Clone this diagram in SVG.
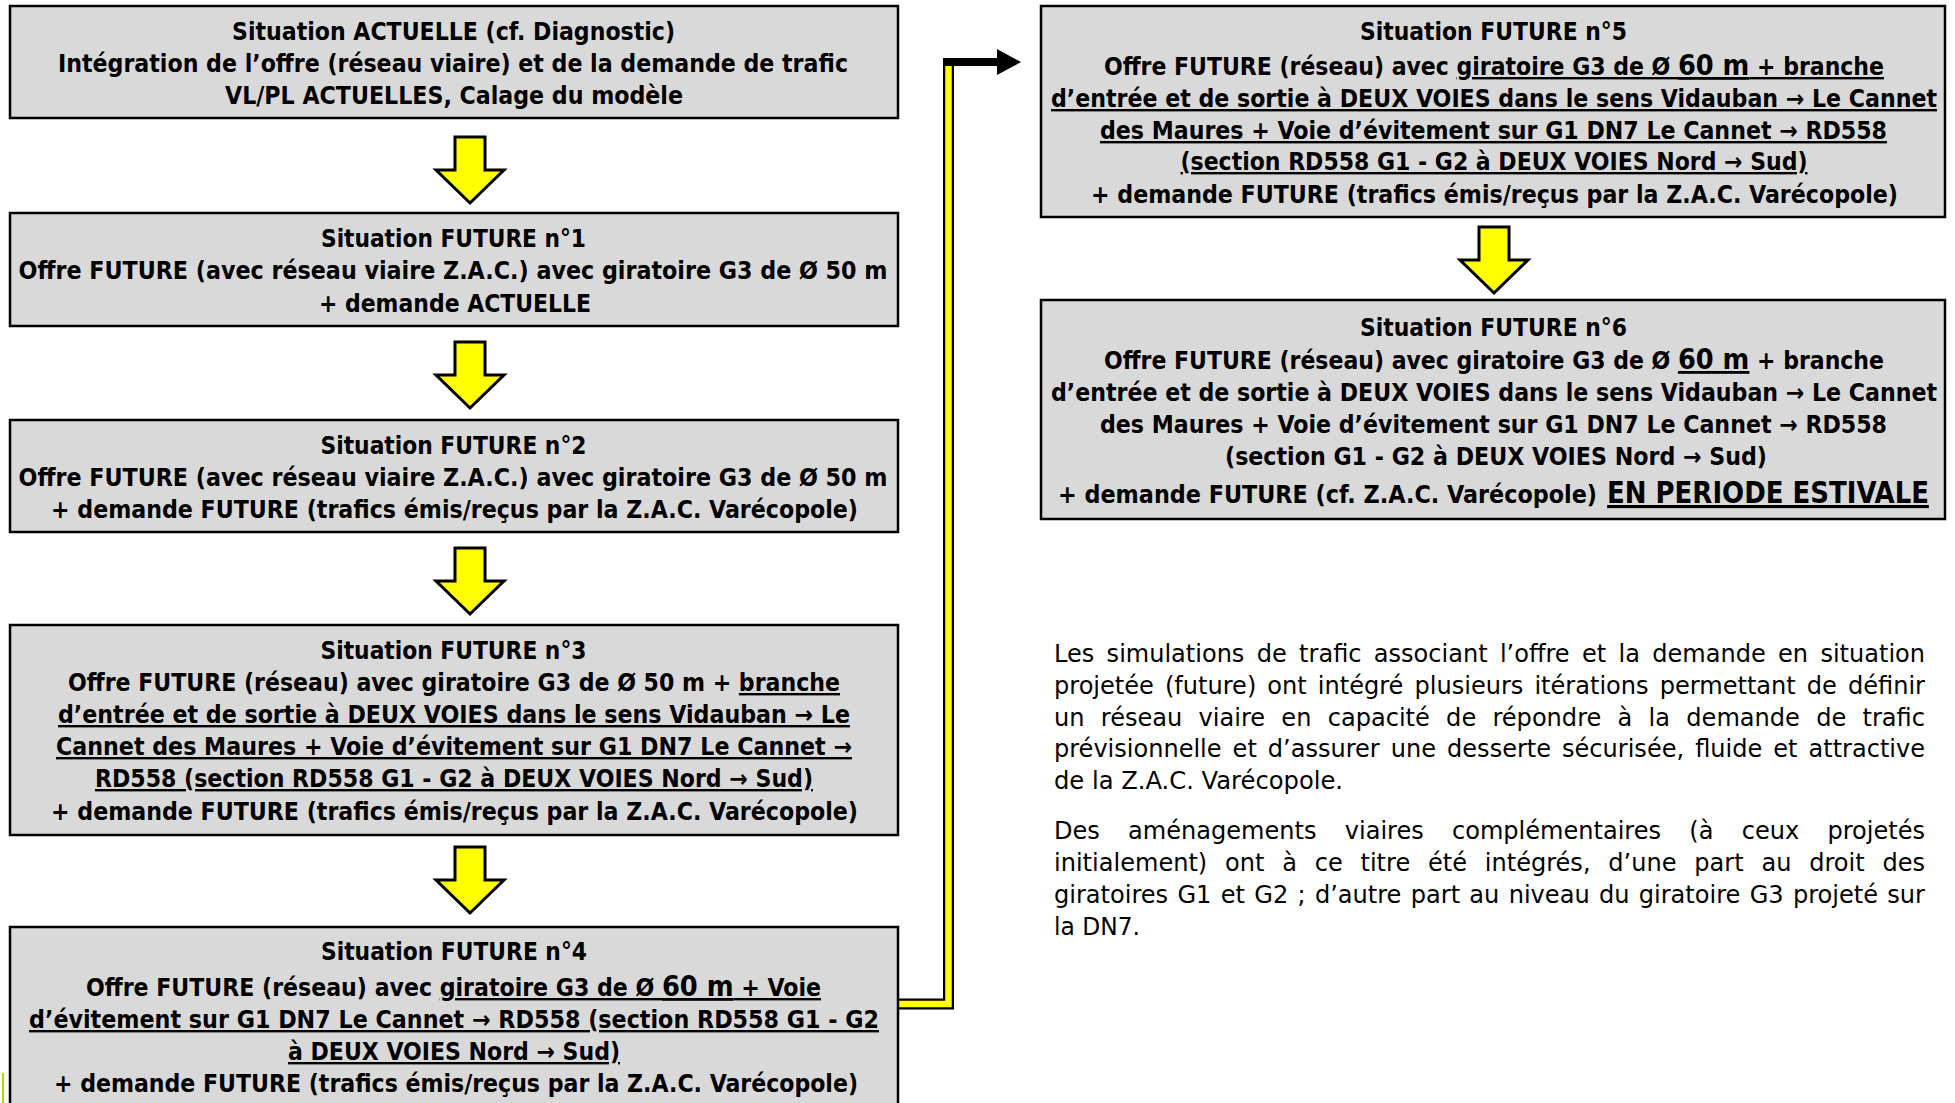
<svg xmlns="http://www.w3.org/2000/svg" width="1955" height="1103" viewBox="0 0 1955 1103">
  <style>
    .box { fill: #d9d9d9; stroke: #000; stroke-width: 2.5; }
    .t { font-family: "DejaVu Sans", "Liberation Sans", sans-serif; font-weight: bold; font-stretch: condensed; font-size: 24px; fill: #000; text-anchor: middle; }
    .s { text-anchor: start; }
    .u { text-decoration: underline; }
    .big { font-size: 28px; }
    .est { font-size: 31px; }
    .p { font-family: "DejaVu Sans", "Liberation Sans", sans-serif; font-size: 24px; fill: #000; }
    .arrow { fill: #ffff00; stroke: #000; stroke-width: 3; stroke-linejoin: miter; }
  </style>
  <rect width="1955" height="1103" fill="#fff"/>

  <!-- flow arrows and the link from n°4 to n°5 -->
  <g id="connectors">
    <polygon class="arrow" points="455,137 485,137 485,170 504,170 470,203 436,170 455,170"/>
    <polygon class="arrow" points="455,342 485,342 485,375 504,375 470,408 436,375 455,375"/>
    <polygon class="arrow" points="455,548 485,548 485,581 504,581 470,614 436,581 455,581"/>
    <polygon class="arrow" points="455,847 485,847 485,880 504,880 470,913 436,880 455,880"/>
    <polygon class="arrow" points="1479,227 1509,227 1509,260 1528,260 1494,293 1460,260 1479,260"/>
    <path d="M897 1004 H948.5 V62" fill="none" stroke="#000" stroke-width="11" stroke-linejoin="miter"/>
    <path d="M899 1004 H948.5 V66" fill="none" stroke="#ffff00" stroke-width="6.5" stroke-linejoin="miter"/>
    <rect x="943" y="58" width="56" height="8" fill="#000"/>
    <polygon points="997,49 1021,62 997,75" fill="#000"/>
  </g>

  <g id="actuelle">
    <rect class="box" x="10" y="6" width="888" height="112"/>
    <text class="t" x="453.5" y="40" textLength="443" lengthAdjust="spacingAndGlyphs">Situation ACTUELLE (cf. Diagnostic)</text>
    <text class="t" x="453" y="72" textLength="790" lengthAdjust="spacingAndGlyphs">Intégration de l’offre (réseau viaire) et de la demande de trafic</text>
    <text class="t" x="454" y="104" textLength="458" lengthAdjust="spacingAndGlyphs">VL/PL ACTUELLES, Calage du modèle</text>
  </g>

  <g id="future1">
    <rect class="box" x="10" y="213" width="888" height="113"/>
    <text class="t" x="453.5" y="247" textLength="265" lengthAdjust="spacingAndGlyphs">Situation FUTURE n°1</text>
    <text class="t" x="453" y="279" textLength="869" lengthAdjust="spacingAndGlyphs">Offre FUTURE (avec réseau viaire Z.A.C.) avec giratoire G3 de Ø 50 m</text>
    <text class="t" x="455" y="312" textLength="272" lengthAdjust="spacingAndGlyphs">+ demande ACTUELLE</text>
  </g>

  <g id="future2">
    <rect class="box" x="10" y="420" width="888" height="112"/>
    <text class="t" x="453.5" y="454" textLength="266" lengthAdjust="spacingAndGlyphs">Situation FUTURE n°2</text>
    <text class="t" x="453" y="486" textLength="869" lengthAdjust="spacingAndGlyphs">Offre FUTURE (avec réseau viaire Z.A.C.) avec giratoire G3 de Ø 50 m</text>
    <text class="t" x="454.5" y="518" textLength="807" lengthAdjust="spacingAndGlyphs">+ demande FUTURE (trafics émis/reçus par la Z.A.C. Varécopole)</text>
  </g>

  <g id="future3">
    <rect class="box" x="10" y="625" width="888" height="210"/>
    <text class="t" x="453.5" y="659" textLength="266" lengthAdjust="spacingAndGlyphs">Situation FUTURE n°3</text>
    <text class="t" x="454" y="691" textLength="772" lengthAdjust="spacingAndGlyphs">Offre FUTURE (réseau) avec giratoire G3 de Ø 50 m + <tspan class="u">branche</tspan></text>
    <text class="t u" x="454" y="723" textLength="792" lengthAdjust="spacingAndGlyphs">d’entrée et de sortie à DEUX VOIES dans le sens Vidauban → Le</text>
    <text class="t u" x="454" y="755" textLength="796" lengthAdjust="spacingAndGlyphs">Cannet des Maures + Voie d’évitement sur G1 DN7 Le Cannet →</text>
    <text class="t u" x="454" y="787" textLength="718" lengthAdjust="spacingAndGlyphs">RD558 (section RD558 G1 - G2 à DEUX VOIES Nord → Sud)</text>
    <text class="t" x="454.5" y="820" textLength="807" lengthAdjust="spacingAndGlyphs">+ demande FUTURE (trafics émis/reçus par la Z.A.C. Varécopole)</text>
  </g>

  <g id="future4">
    <rect class="box" x="10" y="927" width="888" height="190"/>
    <text class="t" x="454" y="960" textLength="266" lengthAdjust="spacingAndGlyphs">Situation FUTURE n°4</text>
    <text class="t" x="453.5" y="996" textLength="735" lengthAdjust="spacingAndGlyphs">Offre FUTURE (réseau) avec <tspan class="u">giratoire G3 de Ø <tspan class="big">60 m</tspan> + Voie</tspan></text>
    <text class="t u" x="454" y="1028" textLength="850" lengthAdjust="spacingAndGlyphs">d’évitement sur G1 DN7 Le Cannet → RD558 (section RD558 G1 - G2</text>
    <text class="t u" x="454" y="1060" textLength="332" lengthAdjust="spacingAndGlyphs">à DEUX VOIES Nord → Sud)</text>
    <text class="t" x="456" y="1092" textLength="804" lengthAdjust="spacingAndGlyphs">+ demande FUTURE (trafics émis/reçus par la Z.A.C. Varécopole)</text>
  </g>

  <g id="future5">
    <rect class="box" x="1041" y="6" width="904" height="211"/>
    <text class="t" x="1493.5" y="40" textLength="267" lengthAdjust="spacingAndGlyphs">Situation FUTURE n°5</text>
    <text class="t" x="1494" y="75" textLength="780" lengthAdjust="spacingAndGlyphs">Offre FUTURE (réseau) avec <tspan class="u">giratoire G3 de Ø <tspan class="big">60 m</tspan> + branche</tspan></text>
    <text class="t u" x="1494" y="107" textLength="886" lengthAdjust="spacingAndGlyphs">d’entrée et de sortie à DEUX VOIES dans le sens Vidauban → Le Cannet</text>
    <text class="t u" x="1493.5" y="139" textLength="787" lengthAdjust="spacingAndGlyphs">des Maures + Voie d’évitement sur G1 DN7 Le Cannet → RD558</text>
    <text class="t u" x="1494" y="170" textLength="627" lengthAdjust="spacingAndGlyphs">(section RD558 G1 - G2 à DEUX VOIES Nord → Sud)</text>
    <text class="t" x="1494.5" y="203" textLength="807" lengthAdjust="spacingAndGlyphs">+ demande FUTURE (trafics émis/reçus par la Z.A.C. Varécopole)</text>
  </g>

  <g id="future6">
    <rect class="box" x="1041" y="300" width="904" height="219"/>
    <text class="t" x="1493.5" y="336" textLength="267" lengthAdjust="spacingAndGlyphs">Situation FUTURE n°6</text>
    <text class="t" x="1494" y="369" textLength="780" lengthAdjust="spacingAndGlyphs">Offre FUTURE (réseau) avec giratoire G3 de Ø <tspan class="u big">60 m</tspan> + branche</text>
    <text class="t" x="1494" y="401" textLength="886" lengthAdjust="spacingAndGlyphs">d’entrée et de sortie à DEUX VOIES dans le sens Vidauban → Le Cannet</text>
    <text class="t" x="1493.5" y="433" textLength="787" lengthAdjust="spacingAndGlyphs">des Maures + Voie d’évitement sur G1 DN7 Le Cannet → RD558</text>
    <text class="t" x="1496" y="465" textLength="542" lengthAdjust="spacingAndGlyphs">(section G1 - G2 à DEUX VOIES Nord → Sud)</text>
    <text class="t s" x="1058" y="503" textLength="539" lengthAdjust="spacingAndGlyphs">+ demande FUTURE (cf. Z.A.C. Varécopole)</text>
    <text class="t s u est" x="1607" y="503" textLength="322" lengthAdjust="spacingAndGlyphs">EN PERIODE ESTIVALE</text>
  </g>

  <!-- explanatory paragraphs, justified line by line -->
  <g id="notes">
    <text class="p" x="1054" y="662" word-spacing="4.7" textLength="871" lengthAdjust="spacingAndGlyphs">Les simulations de trafic associant l’offre et la demande en situation</text>
    <text class="p" x="1054" y="694" word-spacing="3.4" textLength="871" lengthAdjust="spacingAndGlyphs">projetée (future) ont intégré plusieurs itérations permettant de définir</text>
    <text class="p" x="1054" y="726" word-spacing="8.6" textLength="871" lengthAdjust="spacingAndGlyphs">un réseau viaire en capacité de répondre à la demande de trafic</text>
    <text class="p" x="1054" y="757" word-spacing="3.4" textLength="871" lengthAdjust="spacingAndGlyphs">prévisionnelle et d’assurer une desserte sécurisée, fluide et attractive</text>
    <text class="p" x="1054" y="789" textLength="289" lengthAdjust="spacingAndGlyphs">de la Z.A.C. Varécopole.</text>
    <text class="p" x="1054" y="839" word-spacing="20.6" textLength="871" lengthAdjust="spacingAndGlyphs">Des aménagements viaires complémentaires (à ceux projetés</text>
    <text class="p" x="1054" y="871" word-spacing="10.1" textLength="871" lengthAdjust="spacingAndGlyphs">initialement) ont à ce titre été intégrés, d’une part au droit des</text>
    <text class="p" x="1054" y="903" word-spacing="1.65" textLength="871" lengthAdjust="spacingAndGlyphs">giratoires G1 et G2 ; d’autre part au niveau du giratoire G3 projeté sur</text>
    <text class="p" x="1054" y="935" textLength="86" lengthAdjust="spacingAndGlyphs">la DN7.</text>
  </g>

  <line x1="3" y1="1073" x2="3" y2="1103" stroke="#b8d400" stroke-width="2"/>
</svg>
